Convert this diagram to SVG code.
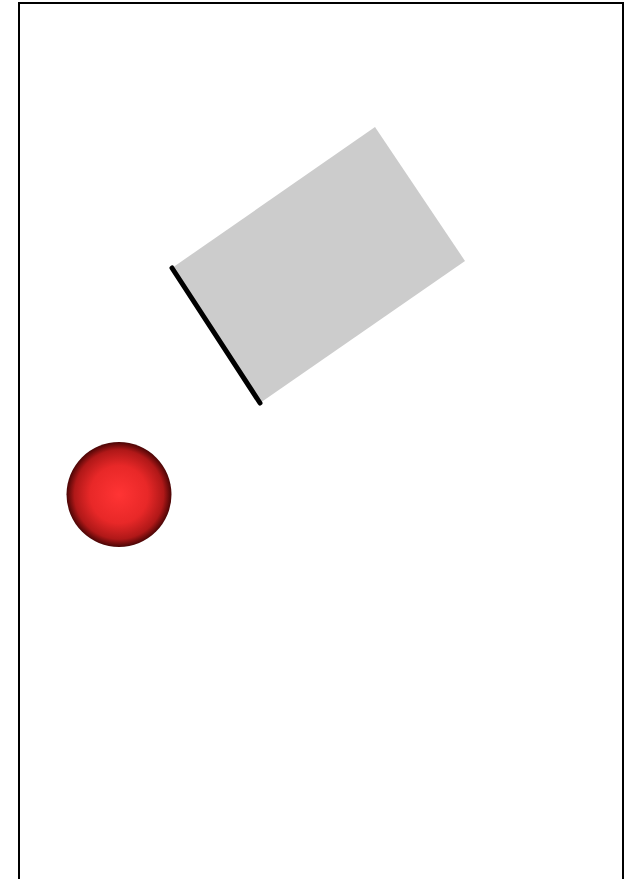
<svg xmlns="http://www.w3.org/2000/svg" width="626" height="879" viewBox="0 0 626 879">
  <defs>
    <radialGradient id="ballGrad" cx="0.5" cy="0.5" r="0.5">
      <stop offset="0" stop-color="#ff3434"/>
      <stop offset="0.55" stop-color="#e82828"/>
      <stop offset="0.85" stop-color="#b01818"/>
      <stop offset="1" stop-color="#4a0505"/>
    </radialGradient>
  </defs>
  <rect width="626" height="879" fill="#ffffff"/>
  <rect x="19" y="3" width="604" height="890" fill="none" stroke="#000000" stroke-width="2"/>
  <g id="block">
    <polygon points="172,268 375,127 465,261 260,403" fill="#cccccc"/>
    <line x1="172" y1="268" x2="260" y2="403" stroke="#000000" stroke-width="5" stroke-linecap="round"/>
  </g>
  <g id="ball">
    <circle cx="119" cy="494.5" r="52.5" fill="url(#ballGrad)"/>
  </g>
</svg>
